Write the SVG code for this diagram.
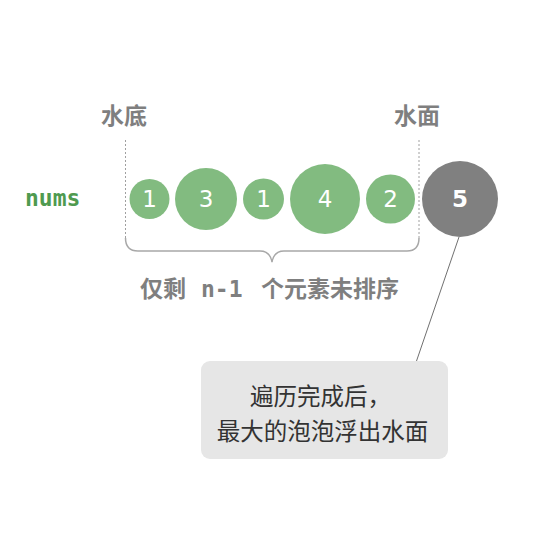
<svg xmlns="http://www.w3.org/2000/svg" width="542" height="542" viewBox="0 0 542 542">
<style>
.lbl{font-family:"Noto Sans CJK SC","Noto Sans",sans-serif;font-weight:bold;font-size:23px;fill:#7f7f7f}
.num{font-family:"DejaVu Sans","Noto Sans",sans-serif;font-size:23px;fill:#ffffff;text-anchor:middle;dominant-baseline:central}
.g{fill:#82bb80}
.dash{stroke:#a0a0a0;stroke-width:1;stroke-dasharray:2 2;fill:none}
.box{font-family:"Noto Sans CJK SC","Noto Sans",sans-serif;font-size:23.5px;fill:#333333;text-anchor:middle;dominant-baseline:central}
</style>
<rect width="542" height="542" fill="#ffffff"/>
<g id="connectors">
<line class="dash" x1="125.5" y1="140" x2="125.5" y2="240"/>
<line class="dash" x1="419" y1="140" x2="419" y2="240"/>
<path d="M125.5 238 Q125.5 251 138 251 L260 251 Q270 251 272 262 Q274 251 284 251 L407 251 Q419 251 419 238" fill="none" stroke="#a8a8a8" stroke-width="1.5"/>
<line x1="416.5" y1="361" x2="459" y2="237" stroke="#707070" stroke-width="1"/>
</g>
<g id="label-bottom"><text class="lbl" x="101" y="124">水底</text></g>
<g id="label-top"><text class="lbl" x="394" y="124">水面</text></g>
<g id="label-nums"><text x="25" y="206" style="font-family:'DejaVu Sans Mono',monospace;font-weight:bold;font-size:23px;fill:#4f9a4f">nums</text></g>
<g id="n0"><circle class="g" cx="149.5" cy="199" r="20"/><text class="num" x="149.5" y="199">1</text></g>
<g id="n1"><circle class="g" cx="206" cy="199" r="31"/><text class="num" x="206" y="199">3</text></g>
<g id="n2"><circle class="g" cx="263.5" cy="199" r="20.5"/><text class="num" x="263.5" y="199">1</text></g>
<g id="n3"><circle class="g" cx="325" cy="199" r="35"/><text class="num" x="325" y="199">4</text></g>
<g id="n4"><circle class="g" cx="390.5" cy="199" r="24.5"/><text class="num" x="390.5" y="199">2</text></g>
<g id="n5"><circle fill="#808080" cx="460" cy="199" r="38"/><text class="num" x="460" y="199" style="font-weight:bold">5</text></g>
<g id="label-remaining">
<text class="lbl" x="140" y="297">仅剩</text>
<text class="lbl" x="201" y="297" style="font-family:'DejaVu Sans Mono',monospace;font-size:23px">n-1</text>
<text class="lbl" x="261" y="297">个元素未排序</text>
</g>
<g id="note">
<rect x="201" y="361" width="247" height="98" rx="9" fill="#e6e6e6"/>
<text class="box" x="320.5" y="395">遍历完成后，</text>
<text class="box" x="322.5" y="430">最大的泡泡浮出水面</text>
</g>
</svg>
